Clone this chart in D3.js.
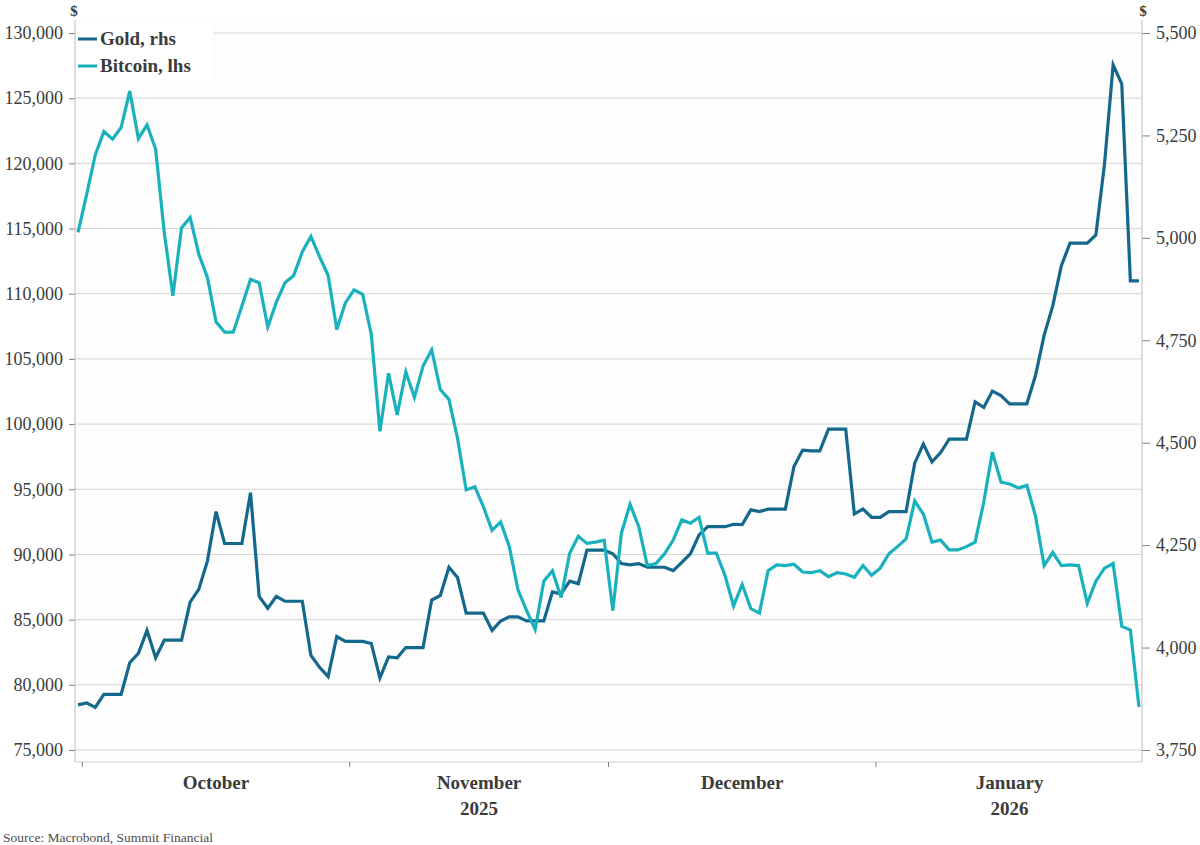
<!DOCTYPE html>
<html>
<head>
<meta charset="utf-8">
<script src="https://cdn.jsdelivr.net/npm/d3@7"></script>
<style>
    body { margin: 0; background: #ffffff; }
    svg { display: block; font-family: "Liberation Serif", "Times New Roman", serif; }
</style>
</head>
<body>
<svg id="chart" width="1200" height="845"></svg>
<script>

// daily closes, 30 Sep 2025 to 31 Jan 2026 (gold carried over weekends)
var start_date = new Date(2025, 8, 30);

var gold = [3860,3865,3854,3886,3886,3886,3963,3986,4042,3975,
    4018,4018,4018,4111,4142,4211,4332,4254,4254,4254,
    4378,4125,4096,4125,4113,4113,4113,3981,3952,3929,
    4027,4015,4015,4015,4010,3926,3977,3975,4000,4000,
    4000,4116,4127,4196,4171,4084,4084,4084,4042,4065,
    4075,4075,4065,4065,4065,4136,4131,4162,4156,4238,
    4238,4238,4229,4205,4202,4205,4196,4196,4196,4188,
    4208,4229,4275,4295,4295,4295,4301,4300,4336,4332,
    4338,4338,4338,4442,4482,4480,4480,4533,4533,4533,
    4326,4338,4318,4318,4332,4332,4332,4450,4497,4453,
    4476,4509,4509,4509,4600,4586,4626,4615,4595,4595,
    4595,4664,4762,4834,4932,4987,4987,4987,5007,5180,
    5422,5376,4895,4895];

var bitcoin = [114700,117600,120650,122450,121850,122750,125550,121900,122950,121100,
    114700,109850,115050,115850,113050,111250,107850,107050,107050,109050,
    111100,110850,107450,109350,110850,111400,113200,114400,112850,111400,
    107250,109300,110300,109950,106900,99450,103900,100700,104000,102050,
    104450,105700,102650,101900,98900,94950,95200,93650,91850,92500,
    90600,87300,85700,84250,87950,88750,86700,90100,91400,90850,
    90950,91100,85700,91650,93850,92150,89150,89300,90050,91100,
    92650,92400,92850,90100,90100,88400,86050,87700,85850,85500,
    88750,89200,89150,89250,88650,88600,88750,88300,88600,88500,
    88250,89150,88400,88950,90050,90600,91200,94100,93100,90950,
    91100,90350,90350,90600,90950,94000,97850,95550,95400,95100,
    95300,92950,89150,90150,89150,89200,89150,86250,87950,88950,
    89300,84500,84200,78300];

var left_ticks = [75000,80000,85000,90000,95000,100000,105000,110000,115000,120000,125000,130000];
var right_ticks = [3750,4000,4250,4500,4750,5000,5250,5500];
var month_labels = ["October","November","December","January"];
var year_labels = [{month: 1, text: "2025"}, {month: 3, text: "2026"}];
var series = [
    {name: "Gold, rhs", key: "gold", colour: "#13688b"},
    {name: "Bitcoin, lhs", key: "bitcoin", colour: "#19b1bc"}
];

var svg = d3.select("#chart");

var plot = {left: 75, right: 1142, top: 20, bottom: 762};

// each observation sits at midday so month ticks fall between days
var my_data = gold.map(function(g, i) {
    return {
        date: d3.timeHour.offset(d3.timeDay.offset(start_date, i), 12),
        gold: g,
        bitcoin: bitcoin[i]
    };
});

var x_scale = d3.scaleTime()
    .domain(d3.extent(my_data, d => d.date))
    .range([78, 1139]);

var y_left = d3.scaleLinear().domain([75000, 130000]).range([750, 33]);
var y_right = d3.scaleLinear().domain([3750, 5500]).range([750, 33]);

var fmt = d3.format(",");

//plot background
svg.append("rect")
    .attr("x", plot.left)
    .attr("y", plot.top)
    .attr("width", plot.right - plot.left)
    .attr("height", plot.bottom - plot.top)
    .attr("fill", "#fdfdfd");

//gridlines off the left axis
svg.append("g")
    .selectAll("line")
    .data(left_ticks)
    .join("line")
    .attr("x1", plot.left)
    .attr("x2", plot.right)
    .attr("y1", d => y_left(d))
    .attr("y2", d => y_left(d))
    .attr("stroke", "#d4d4d4")
    .attr("stroke-width", 1);

//left axis
var left_axis = svg.append("g")
    .attr("transform", "translate(" + plot.left + ",0)")
    .call(d3.axisLeft(y_left).tickValues(left_ticks).tickFormat(fmt).tickSize(6).tickPadding(6));

//right axis
var right_axis = svg.append("g")
    .attr("transform", "translate(" + plot.right + ",0)")
    .call(d3.axisRight(y_right).tickValues(right_ticks).tickFormat(fmt).tickSize(8).tickPadding(6));

[left_axis, right_axis].forEach(function(a) {
    a.select(".domain").remove();
    a.selectAll(".tick line").attr("stroke", "#7f7f7f");
    a.selectAll(".tick text")
        .attr("font-family", "Liberation Serif")
        .attr("font-size", 18)
        .attr("fill", "#3b3b3b");
});

//axis frame lines
svg.append("line")
    .attr("x1", plot.left).attr("x2", plot.left)
    .attr("y1", plot.top).attr("y2", plot.bottom)
    .attr("stroke", "#bdbdbd");
svg.append("line")
    .attr("x1", plot.right).attr("x2", plot.right)
    .attr("y1", plot.top).attr("y2", plot.bottom)
    .attr("stroke", "#bdbdbd");
svg.append("line")
    .attr("x1", plot.left).attr("x2", plot.right)
    .attr("y1", plot.bottom).attr("y2", plot.bottom)
    .attr("stroke", "#d4d4d4");

//month ticks and labels
var month_starts = d3.timeMonth.range(new Date(2025, 9, 1), new Date(2026, 1, 2));
svg.append("g")
    .selectAll("line")
    .data(month_starts.slice(0, 4))
    .join("line")
    .attr("x1", d => x_scale(d))
    .attr("x2", d => x_scale(d))
    .attr("y1", plot.bottom)
    .attr("y2", plot.bottom + 5)
    .attr("stroke", "#7f7f7f");

svg.append("g")
    .selectAll("text")
    .data(month_labels)
    .join("text")
    .attr("x", (d, i) => (x_scale(month_starts[i]) + x_scale(month_starts[i + 1])) / 2)
    .attr("y", 789)
    .attr("text-anchor", "middle")
    .attr("font-size", 19)
    .attr("font-weight", "bold")
    .attr("fill", "#3b3b3b")
    .text(d => d);

svg.append("g")
    .selectAll("text")
    .data(year_labels)
    .join("text")
    .attr("x", d => (x_scale(month_starts[d.month]) + x_scale(month_starts[d.month + 1])) / 2)
    .attr("y", 815)
    .attr("text-anchor", "middle")
    .attr("font-size", 19)
    .attr("font-weight", "bold")
    .attr("fill", "#3b3b3b")
    .text(d => d.text);

//currency marks above axes
svg.append("text").attr("x", 74).attr("y", 16).attr("text-anchor", "middle")
    .attr("font-size", 15).attr("font-weight", "bold").attr("fill", "#3b3b3b").text("$");
svg.append("text").attr("x", 1143).attr("y", 16).attr("text-anchor", "middle")
    .attr("font-size", 15).attr("font-weight", "bold").attr("fill", "#3b3b3b").text("$");

//lines
var line_gold = d3.line().x(d => x_scale(d.date)).y(d => y_right(d.gold));
var line_btc = d3.line().x(d => x_scale(d.date)).y(d => y_left(d.bitcoin));

svg.append("path")
    .datum(my_data)
    .attr("d", line_gold)
    .attr("fill", "none")
    .attr("stroke", series[0].colour)
    .attr("stroke-width", 3.2)
    .attr("stroke-linejoin", "miter");

svg.append("path")
    .datum(my_data)
    .attr("d", line_btc)
    .attr("fill", "none")
    .attr("stroke", series[1].colour)
    .attr("stroke-width", 3.2)
    .attr("stroke-linejoin", "miter");

//legend, white box hides the top gridline
svg.append("rect")
    .attr("x", plot.left + 1)
    .attr("y", 24)
    .attr("width", 137)
    .attr("height", 56)
    .attr("fill", "#ffffff");

var legend = svg.append("g")
    .selectAll("g")
    .data(series)
    .join("g")
    .attr("transform", (d, i) => "translate(78," + (39 + i * 27) + ")");

legend.append("line")
    .attr("x1", 0).attr("x2", 19)
    .attr("stroke", d => d.colour)
    .attr("stroke-width", 3);

legend.append("text")
    .attr("x", 22)
    .attr("y", 6)
    .attr("font-size", 19)
    .attr("font-weight", "bold")
    .attr("fill", "#3b3b3b")
    .text(d => d.name);

//source
svg.append("text")
    .attr("x", 3)
    .attr("y", 842)
    .attr("font-size", 13.5)
    .attr("fill", "#4d4d4d")
    .text("Source: Macrobond, Summit Financial");

</script>
</body>
</html>
